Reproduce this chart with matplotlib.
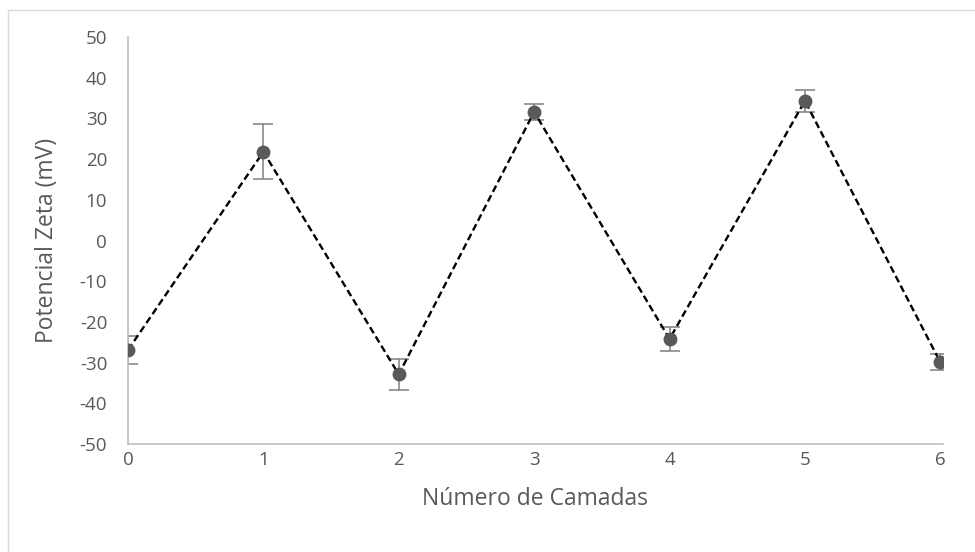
import numpy as np
import matplotlib.pyplot as plt
from matplotlib.patches import Rectangle

# zeta potential per deposited layer
camadas = [0, 1, 2, 3, 4, 5, 6]
potencial = [-26.9, 21.8, -32.9, 31.6, -24.2, 34.3, -29.9]
erro = [3.4, 6.8, 3.8, 1.9, 2.9, 2.7, 2.0]

y_ticks = list(range(-50, 51, 10))

plt.rcParams['font.family'] = ['Open Sans', 'DejaVu Sans']
plt.rcParams['axes.unicode_minus'] = False
text_color = '#595959'

fig = plt.figure(figsize=(9.75, 5.52), dpi=100)
ax = fig.add_axes([128 / 975, 1 - 444 / 552, 815 / 975, 407 / 552])

# light frame around the chart area
fig.add_artist(Rectangle((8 / 975, -0.05), 1.1, 1 - 10 / 552 + 0.05,
                         transform=fig.transFigure, fill=False,
                         edgecolor='#d9d9d9', linewidth=1.0))

ax.errorbar(camadas, potencial, yerr=erro, fmt='none', ecolor='#7f7f7f',
            elinewidth=1.1, capsize=7.5, capthick=1.1, zorder=2)
ax.plot(camadas, potencial, color='black', linestyle='--', linewidth=1.7,
        dashes=(3.0, 1.6), zorder=3)
ax.plot(camadas, potencial, linestyle='none', marker='o', markersize=9,
        color='#595959', zorder=4)

ax.set_xlim(0, 6.02)
ax.set_ylim(-50, 50)
ax.set_xticks(camadas)
ax.set_yticks(y_ticks)

for side in ['top', 'right']:
    ax.spines[side].set_visible(False)
for side in ['left', 'bottom']:
    ax.spines[side].set_color('#bfbfbf')
    ax.spines[side].set_linewidth(1.2)

ax.tick_params(axis='both', length=0, labelsize=13.5, colors=text_color)
ax.tick_params(axis='y', pad=15)
ax.tick_params(axis='x', pad=5)

ax.set_xlabel('Número de Camadas', fontsize=16.5, color=text_color, labelpad=13)
ax.set_ylabel('Potencial Zeta (mV)', fontsize=16.5, color=text_color, labelpad=15)

fig.savefig('out.png', dpi=100)
